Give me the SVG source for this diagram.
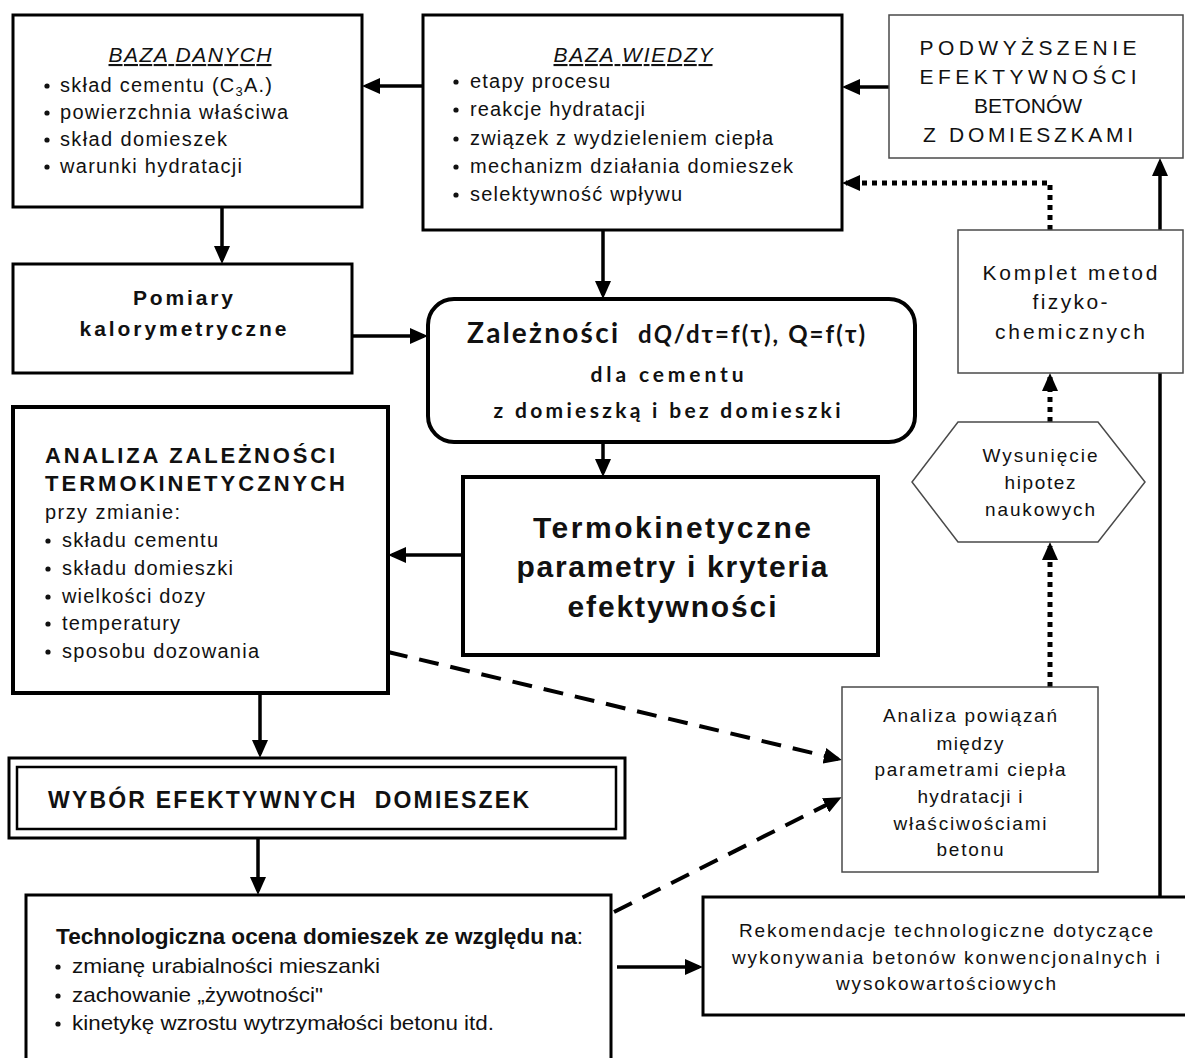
<svg xmlns="http://www.w3.org/2000/svg" width="1185" height="1058" viewBox="0 0 1185 1058">
<defs>
<style>
.box{fill:#fff;stroke:#000;stroke-width:3}
.thick{stroke-width:4}
.thin{fill:#fff;stroke:#4a4a4a;stroke-width:1.5}
.t{font-family:"Liberation Sans",Arial,sans-serif;font-size:20px;fill:#111}
.s19{font-size:19px}
.s21{font-size:21px}
.s22{font-size:22px}
.s23{font-size:23px}
.s30{font-size:30px}
.b{font-weight:bold}
.c{text-anchor:middle}
.cal{font-family:Lato,"Open Sans",sans-serif;font-weight:bold;fill:#111}
.conn{fill:none;stroke:#000;stroke-width:3.5}
.dot{stroke-width:5;stroke-dasharray:5 5}
.dash{stroke-width:4;stroke-dasharray:20 12}
.bul{fill:#111}
</style>
<marker id="ah" viewBox="0 0 18 16" refX="14" refY="8" markerWidth="18" markerHeight="16" markerUnits="userSpaceOnUse" orient="auto">
<path d="M0,0 L18,8 L0,16 z" fill="#000"/>
</marker>
</defs>
<rect width="1185" height="1058" fill="#fff"/>

<g id="connectors">
<path class="conn" d="M423,86 H366" marker-end="url(#ah)"/>
<path class="conn" d="M222,207 V260" marker-end="url(#ah)"/>
<path class="conn" d="M603,230 V295" marker-end="url(#ah)"/>
<path class="conn" d="M889,87 H846" marker-end="url(#ah)"/>
<path class="conn" d="M352,336 H424" marker-end="url(#ah)"/>
<path class="conn" d="M603,442 V473" marker-end="url(#ah)"/>
<path class="conn" d="M463,555 H392" marker-end="url(#ah)"/>
<path class="conn" d="M260,693 V754" marker-end="url(#ah)"/>
<path class="conn" d="M258,838 V891" marker-end="url(#ah)"/>
<path class="conn" d="M617,967 H699" marker-end="url(#ah)"/>
<path class="conn" d="M1160,897 V162" marker-end="url(#ah)"/>
<path class="conn dot" d="M1050,230 V183 H846" marker-end="url(#ah)"/>
<path class="conn dot" d="M1050,422 V377" marker-end="url(#ah)"/>
<path class="conn dot" d="M1050,687 V546" marker-end="url(#ah)"/>
<path class="conn dash" d="M388,652 L838,759" marker-end="url(#ah)"/>
<path class="conn dash" d="M614,912 L838,799" marker-end="url(#ah)"/>
</g>

<g id="baza-danych">
<rect class="box" x="13" y="15" width="349" height="192"/>
<text class="t s21 c" x="190" y="62" font-style="italic" text-decoration="underline" textLength="163" lengthAdjust="spacing">BAZA DANYCH</text>
<circle class="bul" cx="47" cy="86" r="2.6"/>
<circle class="bul" cx="47" cy="113" r="2.6"/>
<circle class="bul" cx="47" cy="140" r="2.6"/>
<circle class="bul" cx="47" cy="167" r="2.6"/>
<text class="t" x="60" y="92" textLength="212" lengthAdjust="spacing">skład cementu (C<tspan style="font-size:13px" dy="4">3</tspan><tspan dy="-4">A.)</tspan></text>
<text class="t" x="60" y="119" textLength="228" lengthAdjust="spacing">powierzchnia właściwa</text>
<text class="t" x="60" y="146" textLength="167" lengthAdjust="spacing">skład domieszek</text>
<text class="t" x="60" y="173" textLength="182" lengthAdjust="spacing">warunki hydratacji</text>
</g>

<g id="baza-wiedzy">
<rect class="box" x="423" y="15" width="419" height="215"/>
<text class="t s21 c" x="633" y="62" font-style="italic" text-decoration="underline" textLength="159" lengthAdjust="spacing">BAZA WIEDZY</text>
<circle class="bul" cx="456" cy="82" r="2.6"/>
<circle class="bul" cx="456" cy="110" r="2.6"/>
<circle class="bul" cx="456" cy="139" r="2.6"/>
<circle class="bul" cx="456" cy="167" r="2.6"/>
<circle class="bul" cx="456" cy="195" r="2.6"/>
<text class="t" x="470" y="88" textLength="140" lengthAdjust="spacing">etapy procesu</text>
<text class="t" x="470" y="116" textLength="175" lengthAdjust="spacing">reakcje hydratacji</text>
<text class="t" x="470" y="145" textLength="303" lengthAdjust="spacing">związek z wydzieleniem ciepła</text>
<text class="t" x="470" y="173" textLength="323" lengthAdjust="spacing">mechanizm działania domieszek</text>
<text class="t" x="470" y="201" textLength="212" lengthAdjust="spacing">selektywność wpływu</text>
</g>

<g id="podwyzszenie">
<rect class="thin" x="889" y="15" width="294" height="143"/>
<text class="t s21 c" x="1028" y="55" textLength="217" lengthAdjust="spacing">PODWYŻSZENIE</text>
<text class="t s21 c" x="1028" y="84" textLength="217" lengthAdjust="spacing">EFEKTYWNOŚCI</text>
<text class="t s21 c" x="1028" y="113">BETONÓW</text>
<text class="t s21 c" x="1028" y="142" textLength="210" lengthAdjust="spacing">Z DOMIESZKAMI</text>
</g>

<g id="pomiary">
<rect class="box" x="13" y="264" width="339" height="109"/>
<text class="t s21 b c" x="183" y="305" textLength="100" lengthAdjust="spacing">Pomiary</text>
<text class="t s21 b c" x="183" y="336" textLength="207" lengthAdjust="spacing">kalorymetryczne</text>
</g>

<g id="zaleznosci">
<rect class="box thick" x="428" y="299" width="487" height="143" rx="26" ry="26"/>
<text class="cal" x="467" y="343" style="font-size:28px" textLength="151" lengthAdjust="spacing">Zależności</text>
<text class="cal" x="638" y="343" style="font-size:24px" textLength="227" lengthAdjust="spacing">d<tspan font-style="italic">Q</tspan>/dτ=f(τ), Q=f(τ)</text>
<text class="cal c" x="667" y="382" style="font-size:21px" textLength="153" lengthAdjust="spacing">dla cementu</text>
<text class="cal c" x="667" y="418" style="font-size:21px" textLength="347" lengthAdjust="spacing">z domieszką i bez domieszki</text>
</g>

<g id="komplet">
<rect class="thin" x="958" y="230" width="225" height="143"/>
<text class="t s21 c" x="1070" y="280" textLength="175" lengthAdjust="spacing">Komplet metod</text>
<text class="t s21 c" x="1070" y="309" textLength="75" lengthAdjust="spacing">fizyko-</text>
<text class="t s21 c" x="1070" y="339" textLength="150" lengthAdjust="spacing">chemicznych</text>
</g>

<g id="hipotezy">
<polygon class="thin" points="958,422 1098,422 1145,482 1098,542 958,542 912,482"/>
<text class="t s19 c" x="1040" y="462" textLength="115" lengthAdjust="spacing">Wysunięcie</text>
<text class="t s19 c" x="1040" y="489" textLength="71" lengthAdjust="spacing">hipotez</text>
<text class="t s19 c" x="1040" y="516" textLength="110" lengthAdjust="spacing">naukowych</text>
</g>

<g id="analiza-zaleznosci">
<rect class="box thick" x="13" y="407" width="375" height="286"/>
<text class="t s22 b" x="45" y="463" textLength="290" lengthAdjust="spacing">ANALIZA ZALEŻNOŚCI</text>
<text class="t s22 b" x="45" y="491" textLength="300" lengthAdjust="spacing">TERMOKINETYCZNYCH</text>
<text class="t" x="45" y="519" textLength="135" lengthAdjust="spacing">przy zmianie:</text>
<circle class="bul" cx="48" cy="541" r="2.6"/>
<circle class="bul" cx="48" cy="569" r="2.6"/>
<circle class="bul" cx="48" cy="597" r="2.6"/>
<circle class="bul" cx="48" cy="624" r="2.6"/>
<circle class="bul" cx="48" cy="652" r="2.6"/>
<text class="t" x="62" y="547" textLength="156" lengthAdjust="spacing">składu cementu</text>
<text class="t" x="62" y="575" textLength="171" lengthAdjust="spacing">składu domieszki</text>
<text class="t" x="62" y="603" textLength="143" lengthAdjust="spacing">wielkości dozy</text>
<text class="t" x="62" y="630" textLength="118" lengthAdjust="spacing">temperatury</text>
<text class="t" x="62" y="658" textLength="197" lengthAdjust="spacing">sposobu dozowania</text>
</g>

<g id="termokinetyczne">
<rect class="box thick" x="463" y="477" width="415" height="178"/>
<text class="t s30 b c" x="672" y="538" textLength="278" lengthAdjust="spacing">Termokinetyczne</text>
<text class="t s30 b c" x="672" y="577" textLength="311" lengthAdjust="spacing">parametry i kryteria</text>
<text class="t s30 b c" x="672" y="617" textLength="209" lengthAdjust="spacing">efektywności</text>
</g>

<g id="analiza-powiazan">
<rect class="thin" x="842" y="687" width="256" height="185"/>
<text class="t s19 c" x="970" y="722" textLength="174" lengthAdjust="spacing">Analiza powiązań</text>
<text class="t s19 c" x="970" y="750" textLength="67" lengthAdjust="spacing">między</text>
<text class="t s19 c" x="970" y="776" textLength="191" lengthAdjust="spacing">parametrami ciepła</text>
<text class="t s19 c" x="970" y="803" textLength="105" lengthAdjust="spacing">hydratacji i</text>
<text class="t s19 c" x="970" y="830" textLength="153" lengthAdjust="spacing">właściwościami</text>
<text class="t s19 c" x="970" y="856" textLength="67" lengthAdjust="spacing">betonu</text>
</g>

<g id="wybor">
<rect class="box" x="9" y="758" width="616" height="80"/>
<rect class="box" x="17" y="767" width="599" height="62" style="stroke-width:2.5"/>
<text class="t s23 b" x="48" y="808" xml:space="preserve" textLength="481" lengthAdjust="spacing">WYBÓR EFEKTYWNYCH  DOMIESZEK</text>
</g>

<g id="technologiczna">
<rect class="box" x="26" y="895" width="585" height="180"/>
<text class="t s22 b" x="56" y="944" textLength="527" lengthAdjust="spacingAndGlyphs">Technologiczna ocena domieszek ze względu na<tspan font-weight="normal">:</tspan></text>
<circle class="bul" cx="58" cy="967" r="2.6"/>
<circle class="bul" cx="58" cy="996" r="2.6"/>
<circle class="bul" cx="58" cy="1024" r="2.6"/>
<text class="t s21" x="72" y="973" textLength="308" lengthAdjust="spacingAndGlyphs">zmianę urabialności mieszanki</text>
<text class="t s21" x="72" y="1002" textLength="251" lengthAdjust="spacingAndGlyphs">zachowanie „żywotności"</text>
<text class="t s21" x="72" y="1030" textLength="422" lengthAdjust="spacingAndGlyphs">kinetykę wzrostu wytrzymałości betonu itd.</text>
</g>

<g id="rekomendacje">
<rect class="box" x="703" y="897" width="500" height="118"/>
<text class="t s19 c" x="946" y="937" textLength="414" lengthAdjust="spacing">Rekomendacje technologiczne dotyczące</text>
<text class="t s19 c" x="946" y="964" textLength="428" lengthAdjust="spacing">wykonywania betonów konwencjonalnych i</text>
<text class="t s19 c" x="946" y="990" textLength="220" lengthAdjust="spacing">wysokowartościowych</text>
</g>
</svg>
